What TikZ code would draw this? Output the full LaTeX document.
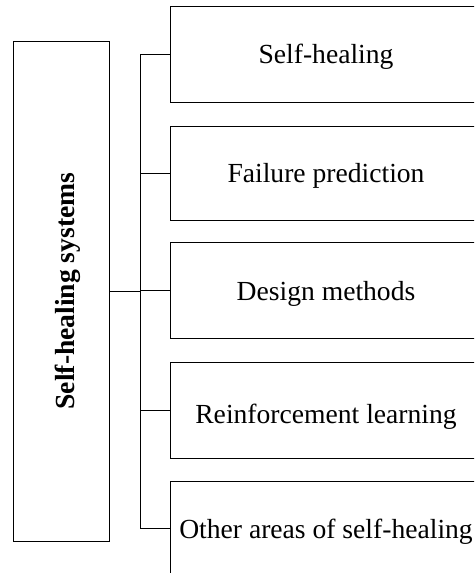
\documentclass[tikz,border=0pt]{standalone}
\usepackage{fontspec}
\setmainfont{Liberation Serif}
\begin{document}
\begin{tikzpicture}[x=1pt,y=-1pt,
  line width=1.5pt,
  box/.style={draw, rectangle, inner sep=0pt, outer sep=0pt, minimum width=312pt},
  lbl/.style={font=\fontsize{27.6}{33}\selectfont, inner sep=0pt, anchor=base},
  root/.style={draw, rectangle, inner sep=0pt, outer sep=0pt, minimum width=96pt, minimum height=500pt},
  link/.style={draw, line width=1.5pt}]
\useasboundingbox (0,0) rectangle (474,573);
\clip (0,0) rectangle (474,573);
\node[root] (L) at (61.5,291.5) {};
\node[lbl, rotate=90, font=\fontsize{27.6}{33}\selectfont\bfseries] (Lt) at (74,291) {Self-healing systems};
\node[box, minimum height=96pt] (b1) at (326.5,54.5) {};
\node[box, minimum height=94pt] (b2) at (326.5,173.5) {};
\node[box, minimum height=96pt] (b3) at (326.5,290.5) {};
\node[box, minimum height=96pt] (b4) at (326.5,410.5) {};
\node[box, minimum height=94pt] (b5) at (326.5,528.5) {};
\node[lbl] (t1) at (326,63) {Self-healing};
\node[lbl] (t2) at (326,182) {Failure prediction};
\node[lbl] (t3) at (326,300) {Design methods};
\node[lbl] (t4) at (326,423) {Reinforcement learning};
\node[lbl] (t5) at (326,538) {Other areas of self-healing};
\coordinate (bt) at (140.5,54.5);
\coordinate (bb) at (140.5,528.5);
\draw[link] (L.east) -- (L.east -| bt);
\draw[link] (b1.west) -- (bt) -- (bb) -- (b5.west);
\draw[link] (b2.west) -- (b2.west -| bt);
\draw[link] (b3.west) -- (b3.west -| bt);
\draw[link] (b4.west) -- (b4.west -| bt);
\end{tikzpicture}
\end{document}
